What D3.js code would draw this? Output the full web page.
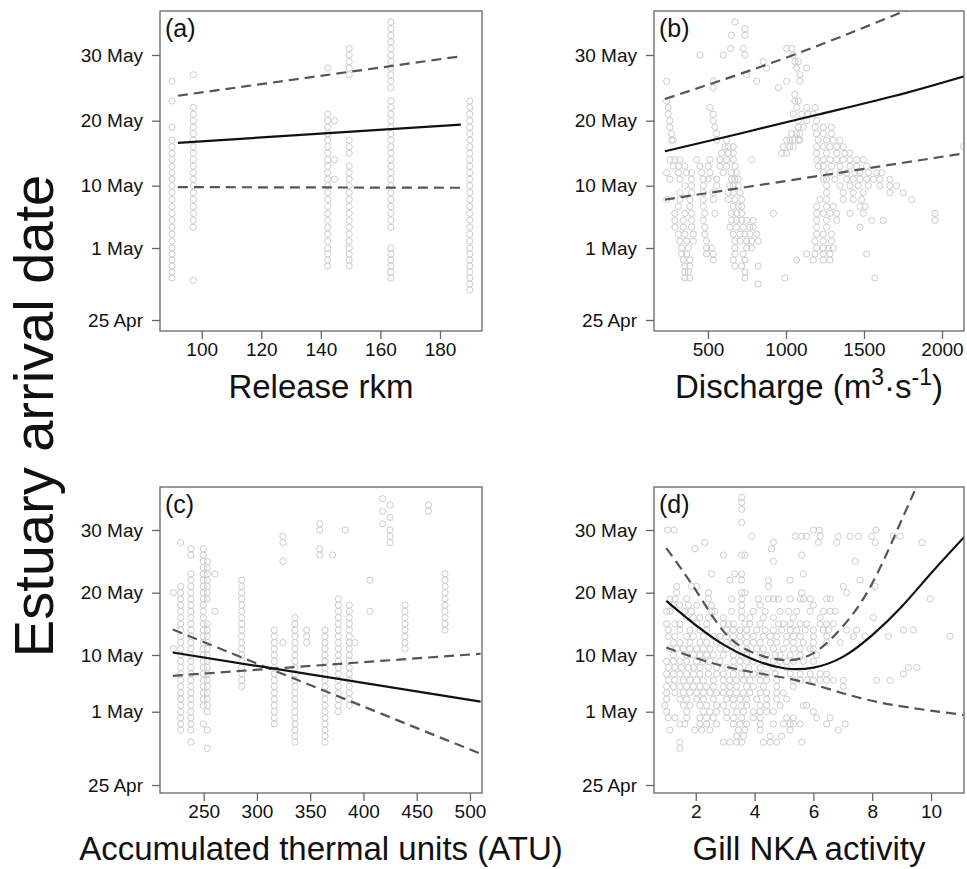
<!DOCTYPE html>
<html><head><meta charset="utf-8">
<script src="https://cdn.jsdelivr.net/npm/d3@7"></script>
<style>
body{margin:0;background:#fff}
text{font-family:"Liberation Sans",Arial,Helvetica,sans-serif}
</style>
</head><body>
<svg id="chart" width="967" height="869"></svg>
<script>
// ---------- shared y axis (day of May; 30 Apr = 0) ----------
const yTickDays = [-5, 1, 10, 20, 30];
const yTickLabels = ["25 Apr", "1 May", "10 May", "20 May", "30 May"];

// ---------- (a) Release rkm ----------
const aTicks = [100, 120, 140, 160, 180];
const aColumns = [
  {x: 90,    days: [26,23,19,17,16,15,14,13,12,11,10,9,8,7,6,5,4,3,2,1,0.5,0,-0.5,-1,-1.5]},
  {x: 97.2,  days: [27,22,21,20,19,18,17,16,15,14,13,12,11,10,9,8,7,6,5,4,-1.7]},
  {x: 142.3, days: [28,21,20,19,18,17,16,15,14,13,12,11,10,9,8,7,6,5,4,3,2,1,0.5,0,-0.5]},
  {x: 144.6, days: [20,14,11]},
  {x: 149.5, days: [31,30,29,28,27,17,16,15,13,12,11,10,9,8,7,6,5,4,3,2,1,0.5,0,-0.5]},
  {x: 163.5, days: [35,34,33,32,31,30,29,28,27,26,25,23,22,21,20,19,18,17,16,15,14,13,12,11,10,9,8,7,6,5,4,1,0.5,0,-0.5,-1,-1.5]},
  {x: 190,   days: [23,22,21,20,19,18,17,16,15,14,13,12,11,10,9,8,7,6,5,4,3,2,1,0.5,0,-0.5,-1,-1.5,-2,-2.5]}
];
const aFit   = [[92, 16.6], [187, 19.4]];
const aUpper = [[92, 23.8], [187, 29.8]];
const aLower = [[92, 9.8], [187, 9.7]];

// ---------- (b) Discharge ----------
const bTicks = [500, 1000, 1500, 2000];
const bRows = [
  {day: 35, x: [673]},
  {day: 34, x: [737]},
  {day: 33, x: [651, 737]},
  {day: 31, x: [645, 726, 1004, 1036]},
  {day: 30, x: [448, 598, 737, 1047]},
  {day: 29, x: [854, 1057, 1079]},
  {day: 28, x: [876, 1068, 1132]},
  {day: 27, x: [748, 1089]},
  {day: 26, x: [235, 534, 812, 1004, 1089]},
  {day: 25, x: [534, 951]},
  {day: 24, x: [1057]},
  {day: 23, x: [235, 1057, 1079]},
  {day: 22, x: [245, 513, 1068, 1132, 1186]},
  {day: 21, x: [245, 534, 1047, 1100, 1143, 1175]},
  {day: 20, x: [256, 534, 1079, 1132, 1196]},
  {day: 19, x: [256, 545, 1079, 1111, 1186, 1239, 1292]},
  {day: 18, x: [267, 555, 1036, 1068, 1089, 1196, 1239, 1292]},
  {day: 17, x: [267, 277, 555, 619, 1004, 1025, 1057, 1079, 1089, 1207, 1260, 1303, 1346]},
  {day: 16, x: [609, 630, 662, 983, 1025, 1047, 1196, 1239, 1282, 1325, 1367, 2137]},
  {day: 15, x: [587, 630, 662, 972, 1004, 1196, 1260, 1325, 1378, 1410]},
  {day: 14, x: [256, 288, 320, 427, 513, 577, 619, 662, 780, 1196, 1239, 1282, 1325, 1367, 1410, 1453, 1495]},
  {day: 13, x: [277, 310, 352, 448, 502, 577, 619, 673, 1207, 1239, 1292, 1346, 1410, 1453, 1517]},
  {day: 12, x: [235, 310, 363, 395, 459, 513, 598, 651, 683, 1239, 1282, 1346, 1389, 1442, 1474, 1528, 1581, 1613]},
  {day: 11, x: [256, 320, 395, 470, 502, 555, 651, 673, 694, 1239, 1260, 1314, 1389, 1431, 1474, 1517, 1560, 1602, 1666]},
  {day: 10, x: [352, 395, 470, 555, 641, 662, 694, 1260, 1346, 1410, 1463, 1528, 1602, 1666, 1709]},
  {day: 9,  x: [320, 395, 470, 534, 630, 662, 705, 1260, 1367, 1431, 1495, 1666, 1752]},
  {day: 8,  x: [235, 320, 384, 470, 534, 630, 673, 716, 1218, 1260, 1367, 1431, 1485, 1805]},
  {day: 7,  x: [310, 384, 470, 662, 694, 716, 1196, 1260, 1303, 1474, 1506]},
  {day: 6,  x: [288, 352, 395, 480, 545, 651, 683, 716, 919, 1196, 1239, 1282, 1325, 1410, 1495, 1955]},
  {day: 5,  x: [288, 342, 395, 470, 651, 683, 716, 748, 790, 1196, 1260, 1325, 1549, 1623, 1955]},
  {day: 4,  x: [288, 342, 395, 480, 641, 683, 726, 769, 790, 1196, 1260, 1474]},
  {day: 3,  x: [310, 352, 406, 480, 662, 705, 737, 769, 812, 1196, 1239, 1292]},
  {day: 2,  x: [320, 363, 406, 491, 673, 705, 748, 780, 822, 1186, 1239, 1292]},
  {day: 1,  x: [331, 374, 491, 523, 673, 748, 780, 1196, 1239, 1271, 1303]},
  {day: 0.5, x: [331, 363, 491, 534, 673, 726, 1132, 1186, 1239, 1282, 1517]},
  {day: 0,  x: [342, 384, 534, 662, 737, 1068, 1175, 1239, 1282]},
  {day: -0.5, x: [352, 384, 673, 716, 822]},
  {day: -1, x: [352, 374, 737]},
  {day: -1.5, x: [352, 384, 737, 993, 1570]},
  {day: -2, x: [822]}
];
const bFit   = [[224, 15.3], [700, 18.0], [1200, 20.9], [1700, 23.8], [2147, 26.8]];
const bUpper = [[224, 23.3], [1047, 30.0], [1763, 36.7], [2147, 40.2]];
const bLower = [[224, 8.0], [1047, 10.9], [2147, 15.0]];

// ---------- (c) ATU ----------
const cTicks = [250, 300, 350, 400, 450, 500];
const cColumns = [
  {x: 221.5, days: [20, 11]},
  {x: 228.4, days: [28,21,20,19,18,17,16,15,14,13,12,11,10,9,8,7,6,5,4,3,2,1,0.5,0,-0.5]},
  {x: 238,   days: [27,26,23,22,21,20,19,18,17,16,15,14,13,12,11,10,9,8,7,6,5,4,3,2,1,0.5,0,-0.5,-1.5]},
  {x: 249.6, days: [27,26,25,24,23,22,21,20,19,18,17,16,15,14,13,12,11,10,9,8,7,6,5,4,3,2,0]},
  {x: 253.4, days: [25,24,23,22,21,20,19,15,14,13,12,11,10,9,8,7,6,5,4,3,2,1,-0.5,-2]},
  {x: 260.6, days: [23, 17]},
  {x: 285.7, days: [22,21,20,19,18,17,16,15,14,13,12,11,10,9,8,7,6,5]},
  {x: 316.3, days: [14,13,12,11,10,9,8,7,6,5,4,3,2,1,0.5,0]},
  {x: 324.4, days: [29,28,25,12]},
  {x: 335.7, days: [16,15,14,13,12,11,10,9,8,7,6,5,4,3,2,1,0.5,0,-0.5,-1,-1.5]},
  {x: 346.7, days: [14,13,12]},
  {x: 359,   days: [31,30,27,26]},
  {x: 363.9, days: [14,13,12,11,10,9,8,7,6,5,4,3,2,1,0.5,0,-0.5,-1,-1.5]},
  {x: 371,   days: [26]},
  {x: 376.4, days: [19,18,17,16,15,14,13,12,11,10,9,8,7,6,5,4,3,2,1]},
  {x: 383,   days: [30]},
  {x: 386.7, days: [18,17,16,15,14,13,12,11,10,9,8,7,6,5,4,3,2]},
  {x: 392,   days: [12]},
  {x: 406,   days: [22, 17]},
  {x: 418,   days: [35, 33, 31]},
  {x: 425,   days: [34, 32, 30, 29, 28]},
  {x: 439,   days: [18,17,16,15,14,13,12,11]},
  {x: 461,   days: [34, 33]},
  {x: 476.6, days: [23,22,21,20,19,18,17,16,15,14]}
];
const cFit   = [[221, 10.4], [510, 2.6]];
const cUpper = [[221, 14.1], [510, -2.45]];
const cLower = [[221, 6.7], [510, 10.2]];

// ---------- (d) Gill NKA ----------
const dTicks = [2, 4, 6, 8, 10];
const dRows = [
  {day: 35.2, x: [3.56]}, {day: 34.4, x: [3.56]}, {day: 33.3, x: [3.56]}, {day: 31.2, x: [3.56]},
  {day: 30, x: [1.04, 1.26, 6.0, 6.2, 8.13]},
  {day: 29, x: [3.9, 5.38, 5.6, 5.77, 6.23, 6.85, 7.25, 7.53, 7.98, 8.72, 8.95]},
  {day: 28, x: [2.31, 4.64, 6.17, 6.79, 8.10, 9.69]},
  {day: 27, x: [1.97, 4.58]},
  {day: 26, x: [2.94, 3.56, 3.67, 5.6]},
  {day: 25, x: [4.64, 7.42]},
  {day: 23, x: [2.54, 3.33, 3.56, 5.66]},
  {day: 22, x: [3.16, 3.56, 4.47, 5.21, 7.59]},
  {day: 21, x: [1.35, 1.86, 2.03, 4.47, 7.02, 8.10]},
  {day: 20, x: [1.35, 2.43, 3.56, 3.67, 5.6, 7.13]},
  {day: 19, x: [1.12, 1.29, 1.69, 2.43, 3.22, 3.56, 4.13, 4.47, 4.64, 4.81, 5.21, 5.55, 5.66, 5.89, 6.45, 6.57, 9.97]},
  {day: 18, x: [1.24, 1.46, 1.75, 2.03, 2.54, 3.56, 4.19, 6.0]},
  {day: 17, x: [1.01, 1.12, 1.63, 1.86, 2.54, 2.65, 3.22, 3.56, 3.96, 4.36, 4.87, 5.15, 5.43, 5.89, 6.34, 6.57, 6.74]},
  {day: 16, x: [1.69, 1.92, 2.14, 2.43, 2.94, 3.56, 3.84, 4.30, 4.64, 5.32, 6.23, 8.04]},
  {day: 15, x: [1.01, 1.29, 1.46, 2.03, 2.37, 2.94, 3.11, 3.28, 3.67, 3.84, 4.19, 4.81, 4.98, 5.21, 5.55, 5.77, 6.23, 6.45, 6.68]},
  {day: 14, x: [1.07, 1.46, 1.80, 2.14, 2.37, 3.05, 3.28, 3.50, 3.73, 4.07, 4.36, 4.64, 4.92, 5.21, 5.43, 5.72, 6.0, 6.34, 6.51, 7.13, 7.47, 9.06, 9.40]},
  {day: 13, x: [1.07, 1.29, 1.69, 1.92, 2.26, 2.60, 2.82, 3.05, 3.28, 3.50, 3.73, 3.96, 4.30, 4.53, 4.75, 5.09, 5.32, 5.55, 6.0, 6.45, 7.36, 7.76, 8.55, 10.65]},
  {day: 12, x: [1.24, 1.46, 1.80, 2.14, 2.37, 2.71, 3.05, 3.28, 3.50, 3.73, 3.96, 4.19, 4.53, 4.75, 5.09, 5.32, 5.66, 6.0, 6.45, 6.91]},
  {day: 11, x: [1.12, 1.35, 1.58, 1.80, 2.03, 2.26, 2.48, 2.82, 3.05, 3.39, 3.73, 4.07, 4.30, 4.64, 4.98, 5.32, 5.55, 5.89, 6.0]},
  {day: 10, x: [1.24, 1.69, 1.92, 2.14, 2.37, 2.60, 2.94, 3.28, 3.56, 3.73, 4.19, 4.41, 4.70, 4.87, 5.21, 5.55, 6.11]},
  {day: 9,  x: [1.01, 1.24, 1.46, 1.69, 2.03, 2.26, 2.48, 2.82, 3.28, 3.50, 3.73, 3.96, 4.30, 4.64, 4.87, 5.09, 5.32, 5.66, 6.0]},
  {day: 8,  x: [1.07, 1.29, 1.52, 1.75, 1.92, 2.14, 2.43, 2.71, 3.05, 3.28, 3.50, 3.79, 4.19, 4.64, 5.09, 9.23, 9.52]},
  {day: 7,  x: [1.01, 1.24, 1.46, 1.69, 1.92, 2.14, 2.43, 2.71, 2.94, 3.28, 3.56, 3.73, 3.96, 4.19, 4.41, 4.70, 5.21, 5.55, 5.89, 6.23, 6.45, 9.06]},
  {day: 6,  x: [1.07, 1.29, 1.58, 1.80, 2.03, 2.26, 2.60, 2.94, 3.16, 3.39, 3.62, 3.84, 4.19, 4.41, 4.75, 5.32, 5.55, 5.77, 6.0, 6.23, 6.45, 6.68, 7.02, 8.15, 8.61]},
  {day: 5,  x: [1.01, 1.24, 1.46, 1.69, 1.92, 2.14, 2.37, 2.60, 2.94, 3.16, 3.39, 3.73, 3.96, 4.30, 4.75, 5.32, 7.02]},
  {day: 4,  x: [1.01, 1.29, 1.58, 1.80, 2.03, 2.26, 2.48, 2.71, 2.94, 3.16, 3.39, 3.62, 3.84, 4.19, 4.41, 4.75, 4.98]},
  {day: 3,  x: [1.01, 1.46, 1.69, 2.03, 2.26, 2.60, 3.05, 3.28, 3.50, 3.73, 4.07, 4.41, 4.75, 5.09]},
  {day: 2,  x: [0.95, 1.58, 1.80, 2.14, 2.37, 2.71, 2.94, 3.28, 3.56, 3.73, 4.19, 4.41, 4.87, 5.66, 5.77]},
  {day: 1,  x: [1.01, 1.69, 2.26, 2.48, 2.71, 3.05, 3.39, 3.62, 3.96, 4.19, 4.41, 4.64, 6.0]},
  {day: 0.5, x: [1.07, 1.29, 1.69, 2.14, 2.37, 2.60, 3.05, 3.28, 3.56, 3.96, 4.19, 5.09, 5.32, 6.11, 6.57]},
  {day: 0,  x: [1.46, 1.63, 2.14, 2.37, 2.71, 3.28, 3.50, 3.73, 4.19, 4.64, 4.98, 5.21, 5.32, 5.55, 6.45, 7.08]},
  {day: -0.5, x: [1.12, 1.97, 2.20, 2.48, 3.45, 3.67, 4.19, 5.21, 6.85]},
  {day: -1, x: [3.39, 3.62, 4.53, 4.92]},
  {day: -1.5, x: [1.46, 2.94, 3.16, 3.39, 3.56, 4.30, 4.53, 4.75, 5.60]},
  {day: -2, x: [1.46]}
];
const dFit   = [[1, 18.7], [2, 14.8], [3, 11.5], [4, 9.2], [5, 7.9], [6, 8.0], [7, 9.7], [8, 13.2], [9, 17.75], [10, 23.1], [11.13, 28.9]];
const dUpper = [[1, 27.1], [2, 20.4], [3, 13.5], [4, 10.3], [5, 9.2], [6, 10.3], [7, 14.6], [8, 21.5], [9, 31.6], [9.5, 36.9], [10, 43]];
const dLower = [[1, 11.2], [3.05, 8.1], [5.32, 6.1], [7.02, 3.9], [8.72, 2.06], [11.13, 0.73]];

// ---------- drawing ----------
const svg = d3.select("#chart");
const FRAME = "#666", POINT = "#cdcdcd";

function colsToPts(cols) { return cols.flatMap(c => c.days.map(d => [c.x, d])); }
function rowsToPts(rows) { return rows.flatMap(r => r.x.map(x => [x, r.day])); }

function drawPanel(o) {
  const g = svg.append("g");
  const x = d3.scaleLinear().domain(o.xDomain).range([o.left, o.right]);
  const y = d3.scaleLinear().domain(yTickDays).range(o.yPx);
  const id = "clip" + o.tag;
  svg.append("defs").append("clipPath").attr("id", id)
    .append("rect").attr("x", o.left).attr("y", o.top)
    .attr("width", o.right - o.left).attr("height", o.bottom - o.top);
  const inner = g.append("g").attr("clip-path", `url(#${id})`);

  inner.selectAll("circle").data(o.points).join("circle")
    .attr("cx", d => x(d[0])).attr("cy", d => y(d[1])).attr("r", 3.1)
    .attr("fill", "none").attr("stroke", POINT).attr("stroke-width", 1);

  const line = d3.line().x(d => x(d[0])).y(d => y(d[1])).curve(o.curve || d3.curveLinear);
  [o.upper, o.lower].forEach(s => inner.append("path").attr("d", line(s))
    .attr("fill", "none").attr("stroke", "#555").attr("stroke-width", 2.2)
    .attr("stroke-dasharray", "10,6"));
  inner.append("path").attr("d", line(o.fit)).attr("fill", "none")
    .attr("stroke", "#111").attr("stroke-width", 2.2);

  g.append("rect").attr("x", o.left).attr("y", o.top)
    .attr("width", o.right - o.left).attr("height", o.bottom - o.top)
    .attr("fill", "none").attr("stroke", FRAME).attr("stroke-width", 1.3);

  const xa = g.append("g").attr("transform", `translate(0,${o.bottom})`)
    .call(d3.axisBottom(x).tickValues(o.xTicks).tickSize(8).tickPadding(4).tickFormat(d3.format("d")));
  const ya = g.append("g").attr("transform", `translate(${o.left},0)`)
    .call(d3.axisLeft(y).tickValues(yTickDays).tickSize(8).tickPadding(9)
      .tickFormat((d, i) => yTickLabels[i]));
  [xa, ya].forEach(a => {
    a.select(".domain").remove();
    a.selectAll("line").attr("stroke", FRAME).attr("stroke-width", 1.3);
    a.selectAll("text").attr("fill", "#111").style("font-size", "19px")
      .style("font-family", '"Liberation Sans", Arial, sans-serif');
  });

  g.append("text").attr("x", o.left + 5).attr("y", o.top + 26)
    .attr("fill", "#111").style("font-size", "25px").text(o.label);

  const t = g.append("text").attr("x", (o.left + o.right) / 2).attr("y", o.bottom + 67)
    .attr("text-anchor", "middle").attr("fill", "#111").style("font-size", "33px");
  o.title(t);
}

const topY = [320, 248, 185.7, 120.7, 55];
const botY = [785, 711.7, 655, 592.7, 530];

drawPanel({tag: "a", left: 160, right: 482, top: 11, bottom: 331, yPx: topY,
  xDomain: [86, 194.1], xTicks: aTicks, points: colsToPts(aColumns),
  fit: aFit, upper: aUpper, lower: aLower, label: "(a)",
  title: t => t.text("Release rkm")});

drawPanel({tag: "b", left: 654, right: 964, top: 11, bottom: 331, yPx: topY,
  xDomain: [154, 2141], xTicks: bTicks, points: rowsToPts(bRows),
  fit: bFit, upper: bUpper, lower: bLower, label: "(b)", curve: d3.curveNatural,
  title: t => {
    t.append("tspan").text("Discharge (m");
    t.append("tspan").attr("dy", -13).style("font-size", "23px").text("3");
    t.append("tspan").attr("dy", 13).text("·s");
    t.append("tspan").attr("dy", -13).style("font-size", "23px").text("-1");
    t.append("tspan").attr("dy", 13).text(")");
  }});

drawPanel({tag: "c", left: 160, right: 482, top: 487, bottom: 793, yPx: botY,
  xDomain: [209, 511.3], xTicks: cTicks, points: colsToPts(cColumns),
  fit: cFit, upper: cUpper, lower: cLower, label: "(c)",
  title: t => t.text("Accumulated thermal units (ATU)")});

drawPanel({tag: "d", left: 654, right: 964, top: 487, bottom: 793, yPx: botY,
  xDomain: [0.58, 11.12], xTicks: dTicks, points: rowsToPts(dRows),
  fit: dFit, upper: dUpper, lower: dLower, label: "(d)", curve: d3.curveNatural,
  title: t => t.text("Gill NKA activity")});

svg.append("text").attr("transform", "translate(53,416) rotate(-90)")
  .attr("text-anchor", "middle").attr("fill", "#111").style("font-size", "56px")
  .text("Estuary arrival date");
</script>
</body></html>
